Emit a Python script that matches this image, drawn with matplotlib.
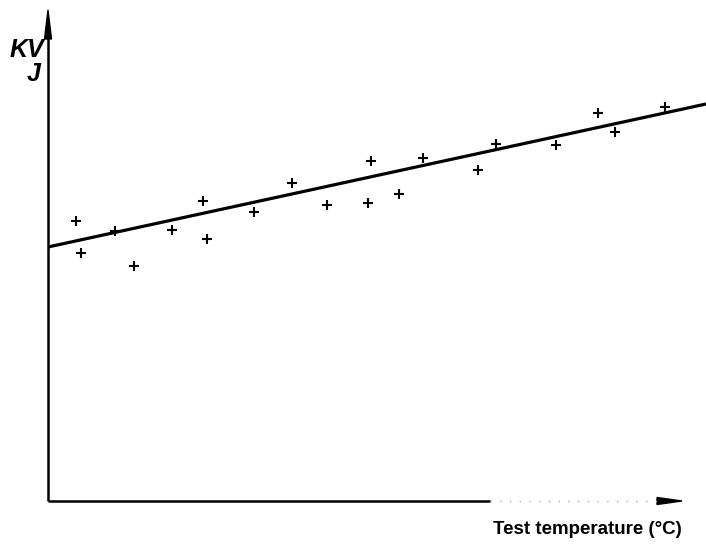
import numpy as np
import matplotlib
matplotlib.use("Agg")
from matplotlib import pyplot as plt
from matplotlib.patches import Polygon

# points (x from the vertical axis, y up from the horizontal axis)
temp = [28, 33, 67, 86, 124, 155, 159, 206, 244, 279,
        320, 323, 351, 375, 430, 448, 508, 550, 567, 617]
kv = [280, 248, 270, 235, 271, 300, 262, 289, 318, 296,
      298, 340, 307, 343, 331, 357, 356, 388, 369, 394]

# fitted line, end points
line_x = [0, 658]
line_y = [254, 397]

fig = plt.figure(figsize=(7.06, 5.48), dpi=100)
ax = fig.add_axes([48 / 706, 47 / 548, 658 / 706, 501 / 548])
ax.set_xlim(0, 658)
ax.set_ylim(0, 501)
ax.axis("off")

# axes drawn by hand, like the scan
ax.plot([0, 0], [0, 470], color="black", lw=1.8, solid_capstyle="butt", clip_on=False)
ax.add_patch(Polygon([[-3.5, 462], [3.5, 462], [0, 491]], closed=True, color="black", clip_on=False))
ax.plot([0, 442], [0, 0], color="black", lw=1.8, solid_capstyle="butt", clip_on=False)
ax.plot([442, 610], [0, 0], color="#aaaaaa", lw=1.0, ls=(0, (1, 6)), clip_on=False)
ax.add_patch(Polygon([[609, -3.5], [609, 3.5], [634, 0]], closed=True, color="black", clip_on=False))

ax.plot(line_x, line_y, color="black", lw=2.3, solid_capstyle="butt")
ax.plot(temp, kv, ls="none", marker="+", ms=7, mew=1.5, color="black")

fig.text(10 / 706, 1 - 57 / 548, "KV", fontsize=18, fontweight="bold", fontstyle="italic",
         family="Liberation Sans", ha="left", va="baseline")
fig.text(27 / 706, 1 - 81 / 548, "J", fontsize=18, fontweight="bold", fontstyle="italic",
         family="Liberation Sans", ha="left", va="baseline")
fig.text(682 / 706, 1 - 530 / 548, "Test temperature (\u00b0C)", fontsize=13.5, fontweight="bold",
         family="Liberation Sans", ha="right", va="center")

fig.savefig("out.png", dpi=100, facecolor="white")
